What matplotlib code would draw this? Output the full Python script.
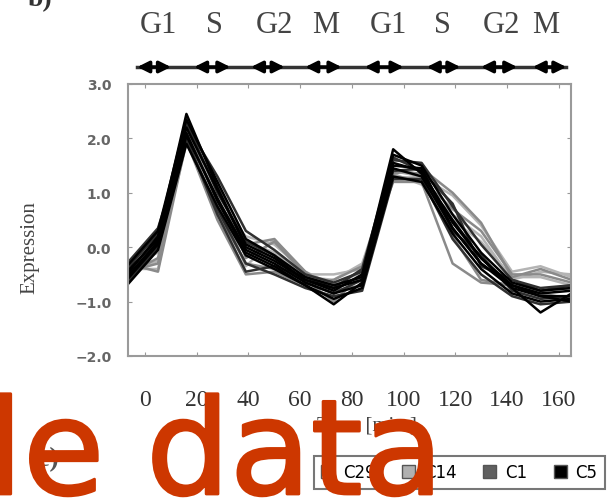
import matplotlib
matplotlib.use("Agg")
import matplotlib.pyplot as plt
import matplotlib.patheffects as pe
from matplotlib.patches import Patch

# time points (min)
time_min = [-7, 5, 16, 28, 39, 50, 62, 73, 84, 96, 107, 119, 130, 142, 153, 165]

# expression profiles per cluster
c29 = [
    [-0.40, -0.40, 2.10, 0.90, -0.35, 0.15, -0.50, -0.50, -0.40, 1.25, 1.30, 0.95, 0.40, -0.45, -0.35, -0.55],
    [-0.50, -0.25, 1.90, 0.80, 0.20, 0.05, -0.45, -0.70, -0.45, 1.35, 1.15, 0.60, 0.20, -0.60, -0.45, -0.50],
    [-0.35, -0.10, 2.00, 1.05, 0.10, -0.10, -0.55, -0.60, -0.30, 1.40, 1.30, 0.50, 0.10, -0.55, -0.55, -0.70],
]
c14 = [
    [-0.45, -0.30, 2.00, 1.20, -0.20, 0.10, -0.50, -0.70, -0.55, 1.35, 1.45, 1.00, 0.45, -0.55, -0.40, -0.60],
    [-0.30, -0.45, 1.95, 0.50, -0.50, -0.45, -0.70, -0.60, -0.35, 1.20, 1.20, -0.30, -0.65, -0.70, -0.80, -0.75],
    [-0.60, 0.20, 2.15, 0.85, 0.05, 0.15, -0.45, -0.80, -0.70, 1.30, 1.25, 0.70, 0.30, -0.50, -0.50, -0.65],
    [-0.50, -0.20, 2.05, 0.65, -0.30, -0.40, -0.60, -1.00, -0.50, 1.40, 1.35, 0.20, -0.60, -0.70, -0.85, -0.95],
]
c1 = [
    [-0.40, 0.25, 2.25, 1.30, 0.30, -0.05, -0.50, -0.65, -0.45, 1.60, 1.55, 0.75, 0.05, -0.60, -0.75, -0.70],
    [-0.65, 0.00, 1.95, 0.70, -0.30, -0.50, -0.75, -0.90, -0.80, 1.25, 1.25, 0.15, -0.50, -0.90, -1.05, -1.00],
    [-0.30, 0.35, 2.00, 0.60, -0.45, -0.35, -0.55, -0.75, -0.40, 1.65, 1.40, 0.80, -0.35, -0.60, -0.80, -0.70],
    [-0.55, 0.10, 2.30, 1.00, 0.10, -0.15, -0.65, -0.85, -0.60, 1.40, 1.45, 0.30, -0.15, -0.80, -0.95, -0.90],
]
c5 = [
    [-0.45, 0.15, 2.20, 1.05, 0.05, -0.20, -0.60, -0.75, -0.60, 1.55, 1.40, 0.45, -0.20, -0.70, -0.85, -0.80],
    [-0.60, 0.05, 2.05, 0.90, -0.05, -0.30, -0.65, -0.85, -0.70, 1.45, 1.30, 0.35, -0.30, -0.75, -0.90, -0.90],
    [-0.35, 0.30, 2.35, 1.20, 0.15, -0.15, -0.55, -0.70, -0.55, 1.70, 1.50, 0.60, -0.10, -0.65, -0.80, -0.75],
    [-0.70, -0.05, 1.90, 0.75, -0.15, -0.40, -0.70, -0.95, -0.75, 1.30, 1.20, 0.25, -0.40, -0.85, -1.00, -0.95],
    [-0.50, 0.20, 2.45, 1.10, 0.00, -0.25, -0.60, -0.80, -0.50, 1.80, 1.35, 0.50, -0.20, -0.75, -1.20, -0.85],
    [-0.55, 0.10, 2.10, 0.85, -0.10, -0.35, -0.70, -1.05, -0.65, 1.50, 1.45, 0.35, -0.30, -0.70, -0.90, -1.00],
]
cluster_names = ["C29", "C14", "C1", "C5"]
cluster_colors = ["#b4b4b4", "#8a8a8a", "#303030", "#000000"]
legend_faces = ["#ffffff", "#b0b0b0", "#606060", "#000000"]

# cell-cycle phases above the plot
phase_labels = ["G1", "S", "G2", "M", "G1", "S", "G2", "M"]
phase_label_x = [5, 27, 50, 70, 94, 115, 138, 155]
phase_start = [-3, 19, 41, 62, 85, 109, 130, 150]
phase_end = [10, 33, 54, 76, 100, 122, 144, 163]

x_ticks = [0, 20, 40, 60, 80, 100, 120, 140, 160]
y_ticks = [-2.0, -1.0, 0.0, 1.0, 2.0, 3.0]

serif = "Liberation Serif"

fig = plt.figure(figsize=(6.16, 5.02), dpi=100)
ax = fig.add_axes([128 / 616, 145 / 502, 443 / 616, 272 / 502])

for group, color in zip([c29, c14, c1, c5], cluster_colors):
    for profile in group:
        ax.plot(time_min, profile, color=color, lw=1.8)

ax.set_xlim(-6.6, 164.8)
ax.set_ylim(-2.0, 3.0)
ax.set_xticks(x_ticks)
ax.set_yticks(y_ticks)
ax.set_yticklabels([f"{v:.1f}".replace("-", "\u2212") for v in y_ticks])
ax.tick_params(direction="in", top=True, right=True, length=3, color="#999999")
ax.tick_params(axis="y", labelsize=10, labelcolor="#666666", pad=12)
ax.tick_params(axis="x", labelsize=17, labelcolor="#333333", pad=24)
for lab in ax.get_xticklabels():
    lab.set_family(serif)
for lab in ax.get_yticklabels():
    lab.set_fontweight("bold")
for sp in ax.spines.values():
    sp.set_color("#9a9a9a")
    sp.set_linewidth(1.5)

# phase arrows and labels
trans = ax.get_xaxis_transform()
ax.plot([phase_start[0], phase_end[-1]], [1.0625, 1.0625], transform=trans,
        color="#333333", lw=2.5, clip_on=False)
for x0, x1 in zip(phase_start, phase_end):
    ax.annotate("", xy=(x1, 1.0625), xytext=(x0, 1.0625), xycoords=trans,
                textcoords=trans,
                arrowprops=dict(arrowstyle="<|-|>", color="black", lw=2.5,
                                mutation_scale=17, shrinkA=0, shrinkB=0))
for lab, x in zip(phase_labels, phase_label_x):
    ax.text(x, 1.22, lab, transform=trans, ha="center", va="center",
            family=serif, fontsize=22, color="#444444")

fig.text(30 / 616, 254 / 502, "Expression", rotation=90, ha="center",
         va="center", family=serif, fontsize=15, color="#444444")
fig.text(367 / 616, 76 / 502, "Time [min.]", ha="center", va="center",
         family=serif, fontsize=15, color="#444444")

fig.text(40 / 616, 1.0, "b)", ha="center", va="center", family=serif,
         fontsize=20, fontweight="bold", color="#333333")
fig.text(48 / 616, 42 / 502, "c)", ha="center", va="center", family=serif,
         fontsize=20, fontweight="bold", color="#555555")

handles = [Patch(facecolor=f, edgecolor="#555555") for f in legend_faces]
leg = fig.legend(handles, cluster_names, loc="lower right", ncol=4,
                 bbox_to_anchor=(613 / 616, 4 / 502), fancybox=False,
                 edgecolor="#777777", fontsize=12, handlelength=0.8,
                 handleheight=0.8, handletextpad=0.5, columnspacing=1.6,
                 borderpad=0.45, framealpha=1)
leg.get_frame().set_linewidth(1.5)

# watermark overlaid on the scan
wm = fig.text(-0.022, 7 / 502, "le data", ha="left", va="baseline",
              fontsize=95, color="#cd3700", zorder=10)
wm.set_path_effects([pe.withStroke(linewidth=2, foreground="#cd3700",
                                   capstyle="round", joinstyle="round")])

fig.savefig("out.png", dpi=100)
